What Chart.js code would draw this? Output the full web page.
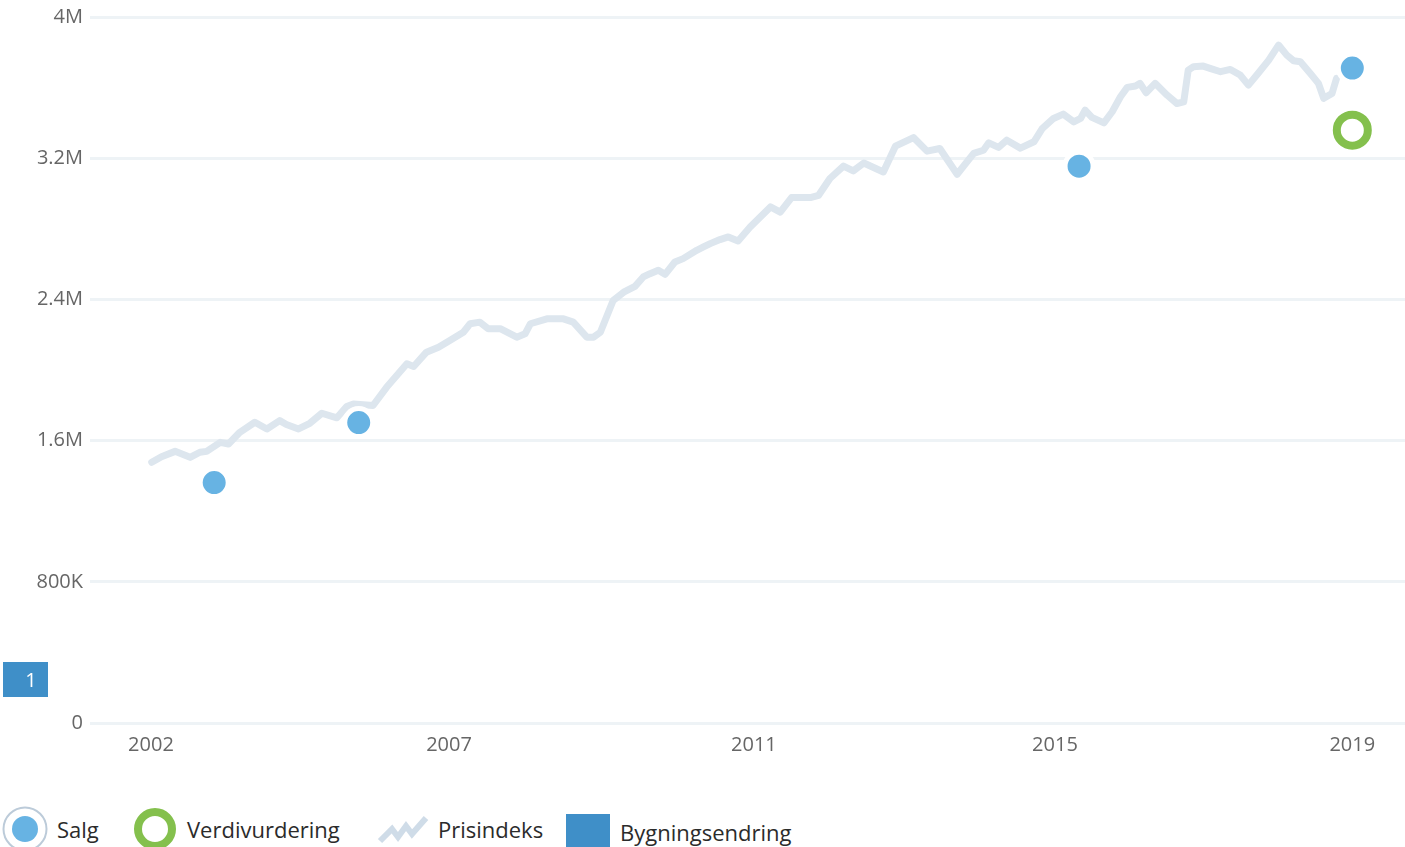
<!DOCTYPE html>
<html>
<head>
<meta charset="utf-8">
<script src="https://cdn.jsdelivr.net/npm/chart.js@4/dist/chart.umd.min.js"></script>
<style>
  html, body { margin: 0; padding: 0; background: #fff; }
  body { width: 1405px; height: 847px; position: relative; overflow: hidden; font-family: "Open Sans", sans-serif; }
  #wrap { position: absolute; left: 0; top: 0; width: 1405px; height: 770px; }
  .leg { position: absolute; font-size: 22px; color: #2b2b2b; white-space: nowrap; line-height: 1; }
  .ico { position: absolute; }
</style>
</head>
<body>
<div id="wrap"><canvas id="c"></canvas></div>

<svg class="ico" style="left:0;top:804px" width="52" height="50">
  <circle cx="25" cy="25" r="21.5" fill="#fff" stroke="#bccbd9" stroke-width="2"/>
  <circle cx="25" cy="25" r="13" fill="#67b3e3"/>
</svg>
<div class="leg" style="left:57px;top:818px">Salg</div>

<svg class="ico" style="left:130px;top:804px" width="50" height="50">
  <circle cx="25" cy="25" r="17" fill="#fff" stroke="#84c04d" stroke-width="8"/>
</svg>
<div class="leg" style="left:187px;top:818px">Verdivurdering</div>

<svg class="ico" style="left:375px;top:812px" width="58" height="34">
  <polyline points="5,29 17,17 23,25 31,14 37,22 51,6" fill="none" stroke="#cfdce8" stroke-width="6" stroke-linejoin="miter"/>
</svg>
<div class="leg" style="left:438px;top:818px">Prisindeks</div>

<div class="ico" style="left:566px;top:814px;width:44px;height:40px;background:#3f8fc8"></div>
<div class="leg" style="left:620px;top:821px">Bygningsendring</div>

<script>
// ---- data (values in millions NOK, x in decimal years) ----
const prisindeksYears = [
  2003.05,2003.18,2003.36,2003.56,2003.69,2003.78,2003.96,2004.07,2004.22,2004.42,
  2004.58,2004.75,2004.84,2005.00,2005.15,2005.31,2005.51,2005.64,2005.73,2005.99,
  2006.17,2006.44,2006.53,2006.70,2006.86,2007.01,2007.19,2007.28,2007.41,2007.52,
  2007.68,2007.90,2008.01,2008.08,2008.30,2008.52,2008.65,2008.83,2008.92,2009.01,
  2009.18,2009.32,2009.47,2009.58,2009.67,2009.78,2009.87,2010.00,2010.11,2010.29,
  2010.38,2010.47,2010.60,2010.71,2010.84,2011.00,2011.27,2011.40,2011.55,2011.80,
  2011.91,2012.06,2012.24,2012.37,2012.51,2012.77,2012.93,2013.17,2013.35,2013.52,
  2013.75,2013.97,2014.10,2014.17,2014.30,2014.41,2014.59,2014.77,2014.88,2015.03,
  2015.16,2015.30,2015.39,2015.45,2015.54,2015.70,2015.81,2015.92,2016.01,2016.12,
  2016.18,2016.26,2016.38,2016.54,2016.67,2016.76,2016.82,2016.89,2017.02,2017.11,
  2017.25,2017.38,2017.51,2017.62,2017.75,2017.89,2018.02,2018.13,2018.22,2018.31,
  2018.44,2018.55,2018.62,2018.73,2018.79
];
const prisindeksValues = [
  1.477,1.509,1.539,1.505,1.534,1.539,1.590,1.581,1.647,1.704,
  1.666,1.713,1.691,1.666,1.698,1.755,1.729,1.793,1.808,1.799,
  1.902,2.035,2.020,2.101,2.129,2.167,2.214,2.262,2.271,2.234,
  2.234,2.186,2.205,2.262,2.290,2.290,2.271,2.186,2.186,2.214,
  2.394,2.441,2.474,2.527,2.546,2.565,2.542,2.612,2.631,2.678,
  2.697,2.716,2.739,2.754,2.731,2.810,2.924,2.895,2.977,2.977,
  2.990,3.085,3.155,3.128,3.173,3.122,3.268,3.317,3.240,3.255,
  3.109,3.227,3.245,3.287,3.261,3.302,3.257,3.293,3.368,3.425,
  3.450,3.406,3.425,3.472,3.431,3.400,3.463,3.548,3.601,3.609,
  3.624,3.571,3.624,3.557,3.510,3.519,3.699,3.718,3.722,3.709,
  3.690,3.703,3.671,3.614,3.681,3.756,3.841,3.784,3.752,3.746,
  3.681,3.624,3.539,3.567,3.652
];
const salgYears = [2003.88, 2005.80, 2015.37, 2019.00];
const salgValues = [1.362, 1.702, 3.155, 3.711];
const verdiYears = [2019.00];
const verdiValues = [3.359];
const bygningsendringLabels = ['1'];

const xTickPositions = [2003.04, 2007, 2011.05, 2015.05, 2019];
const xTickLabels = ['2002', '2007', '2011', '2015', '2019'];
const yTickLabels = ['0', '800K', '1.6M', '2.4M', '3.2M', '4M'];

const zip = (xs, ys) => xs.map((x, i) => ({ x: x, y: ys[i] }));

const bygPlugin = {
  id: 'byg',
  afterDraw(chart) {
    const ctx = chart.ctx;
    ctx.save();
    bygningsendringLabels.forEach((lab, i) => {
      const x = 3 + i * 50, y = 662;
      ctx.fillStyle = '#3f8fc8';
      ctx.fillRect(x, y, 45, 35);
      ctx.fillStyle = '#ffffff';
      ctx.font = '20px "Open Sans"';
      ctx.textAlign = 'center';
      ctx.textBaseline = 'middle';
      ctx.fillText(lab, x + 28, y + 19);
    });
    ctx.restore();
  }
};

new Chart(document.getElementById('c'), {
  type: 'scatter',
  data: {
    datasets: [
      {
        label: 'Salg',
        data: zip(salgYears, salgValues),
        order: 0,
        clip: false,
        pointRadius: 14,
        pointHoverRadius: 14,
        backgroundColor: '#67b3e3',
        borderColor: '#ffffff',
        borderWidth: 5
      },
      {
        label: 'Verdivurdering',
        data: zip(verdiYears, verdiValues),
        order: 1,
        clip: false,
        pointRadius: 15.5,
        pointHoverRadius: 15.5,
        backgroundColor: '#ffffff',
        borderColor: '#84c04d',
        borderWidth: 8
      },
      {
        label: 'Prisindeks',
        type: 'line',
        data: zip(prisindeksYears, prisindeksValues),
        order: 2,
        clip: false,
        showLine: true,
        borderColor: '#dde6ee',
        borderWidth: 7,
        borderJoinStyle: 'round',
        borderCapStyle: 'round',
        pointRadius: 0,
        tension: 0,
        fill: false
      }
    ]
  },
  options: {
    responsive: true,
    maintainAspectRatio: false,
    animation: false,
    layout: { autoPadding: false, padding: { top: 17, left: 0, right: 0, bottom: 0 } },
    plugins: { legend: { display: false }, tooltip: { enabled: false } },
    scales: {
      x: {
        type: 'linear',
        min: 2002.23,
        max: 2019.70,
        grid: { display: false, drawTicks: false },
        border: { display: false },
        afterBuildTicks(scale) { scale.ticks = xTickPositions.map(v => ({ value: v })); },
        afterFit(scale) { scale.height = 47; scale.paddingLeft = 0; scale.paddingRight = 0; },
        ticks: {
          autoSkip: false,
          maxRotation: 0,
          padding: 10,
          color: '#666666',
          font: { family: 'Open Sans', size: 20 },
          callback: (v, i) => xTickLabels[i]
        }
      },
      y: {
        min: 0,
        max: 4,
        grid: { color: '#eef3f6', lineWidth: 3, drawTicks: false },
        border: { display: false },
        afterBuildTicks(scale) { scale.ticks = yTickLabels.map((l, i) => ({ value: i * 0.8 })); },
        afterFit(scale) { scale.width = 90; scale.paddingTop = 0; scale.paddingBottom = 0; },
        ticks: {
          padding: 7,
          color: '#666666',
          font: { family: 'Open Sans', size: 20 },
          callback: (v, i) => yTickLabels[i]
        }
      }
    }
  },
  plugins: [bygPlugin]
});
</script>
</body>
</html>
